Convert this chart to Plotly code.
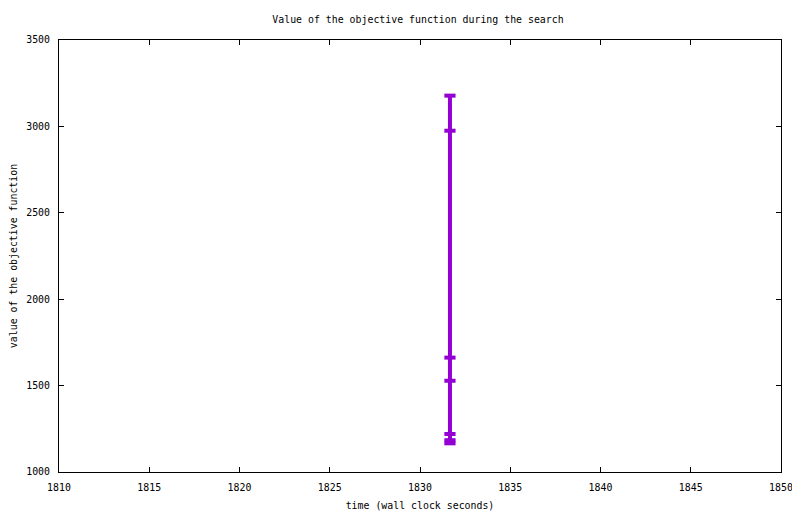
import plotly.graph_objects as go

# objective value samples taken at one wall clock instant
time_s = [1831.66, 1831.66, 1831.66, 1831.66, 1831.66, 1831.66, 1831.66]
objective = [3178, 2975, 1662, 1528, 1220, 1184, 1166]

x_ticks = [1810, 1815, 1820, 1825, 1830, 1835, 1840, 1845, 1850]
y_ticks = [1000, 1500, 2000, 2500, 3000, 3500]

font_mono = dict(family="DejaVu Sans Mono", size=9.9, color="black")

fig = go.Figure()
fig.add_trace(go.Scatter(
    x=time_s, y=objective, mode="lines+markers",
    line=dict(color="#9400D3", width=4),
    marker=dict(symbol="line-ew-open", size=8, line=dict(color="#9400D3", width=4)),
    showlegend=False,
    cliponaxis=False,
))

axis_common = dict(
    showline=True, mirror="ticks", linecolor="black", linewidth=1,
    ticks="inside", ticklen=5, tickcolor="black", tickwidth=1,
    showgrid=False, zeroline=False, tickfont=font_mono, automargin=False,
)

# the page body adds an 8px offset, so the figure is a bit smaller than the window
fig.update_layout(
    width=792, height=506,
    margin=dict(l=51, r=19, t=32, b=42, autoexpand=False),
    paper_bgcolor="white", plot_bgcolor="white",
    font=font_mono,
    title=dict(text="Value of the objective function during the search",
               x=410 / 792, xanchor="center", y=1 - 12 / 506, yanchor="middle",
               font=font_mono),
    xaxis=dict(range=[1810, 1850], tickvals=x_ticks, ticklabelstandoff=6,
               title=dict(text="time (wall clock seconds)", font=font_mono, standoff=10),
               **axis_common),
    yaxis=dict(range=[1000, 3500], tickvals=y_ticks, ticklabelstandoff=6,
               title=dict(text="value of the objective function", font=font_mono, standoff=22),
               **axis_common),
)

fig.write_html("out.html")
